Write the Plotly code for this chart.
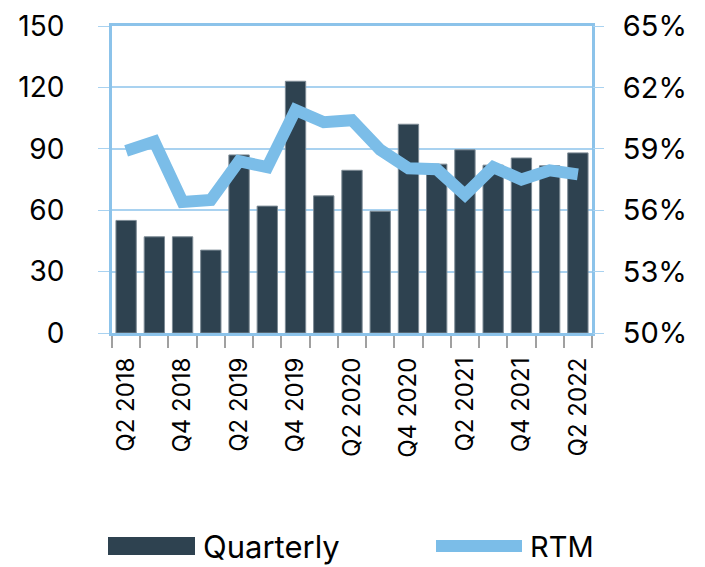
import plotly.graph_objects as go

quarters = ["Q2 2018", "Q3 2018", "Q4 2018", "Q1 2019", "Q2 2019", "Q3 2019", "Q4 2019",
            "Q1 2020", "Q2 2020", "Q3 2020", "Q4 2020", "Q1 2021", "Q2 2021", "Q3 2021",
            "Q4 2021", "Q1 2022", "Q2 2022"]
quarterly = [55, 47, 47, 40.5, 87, 62, 123, 67, 79.5, 59.5, 102, 82.5, 89.5, 82, 85.5, 81.7, 88]
rtm = [58.9, 59.35, 56.4, 56.5, 58.4, 58.1, 60.9, 60.3, 60.4, 58.95, 58.05, 58.0, 56.75,
       58.1, 57.5, 57.95, 57.75]
left_ticks = [0, 30, 60, 90, 120, 150]
right_ticks = [50, 53, 56, 59, 62, 65]
tick_labels = [q if i % 2 == 0 else "" for i, q in enumerate(quarters)]

FONT = "Inter"
BAR = "#2e4250"
LINE = "#7bbde8"
GRID = "#a9d2f0"
BORDER = "#8cc3ea"

fig = go.Figure()
fig.add_trace(go.Bar(x=quarters, y=quarterly, name="Quarterly",
                     marker=dict(color=BAR, line=dict(color="#7d8b95", width=1)),
                     showlegend=False))
fig.add_trace(go.Scatter(x=quarters, y=rtm, name="RTM", yaxis="y2", mode="lines",
                         line=dict(color=LINE, width=12), showlegend=False))

# the page body adds an 8px margin, so the figure is 8px smaller and offset
fig.update_layout(
    width=697, height=559,
    margin=dict(l=104, r=113, t=18, b=234, autoexpand=False),
    paper_bgcolor="white", plot_bgcolor="white",
    bargap=0.28,
    font=dict(family=FONT, size=28, color="black"),
    xaxis=dict(type="category", tickmode="array", tickvals=quarters, ticktext=tick_labels,
               tickson="boundaries", ticks="outside", ticklen=12, tickcolor="#a0a0a0",
               tickwidth=1.5, tickangle=-90, ticklabelstandoff=12, automargin=False,
               showline=True, linecolor=BORDER, linewidth=3, mirror=True,
               showgrid=False, tickfont=dict(size=24)),
    yaxis=dict(range=[0, 150], tickvals=left_ticks, ticks="outside", ticklen=11,
               tickcolor=GRID, showgrid=True, gridcolor=GRID, gridwidth=1.5,
               showline=True, linecolor=BORDER, linewidth=3, mirror=True, automargin=False,
               zeroline=False, ticklabelstandoff=28, tickfont=dict(size=28)),
    yaxis2=dict(range=[50, 65], tickvals=right_ticks,
                ticktext=[f"{v}%" for v in right_ticks], overlaying="y", side="right",
                ticks="outside", ticklen=11, tickcolor=GRID, showgrid=False, automargin=False,
                zeroline=False, ticklabelstandoff=13, tickfont=dict(size=29)),
)

# manual legend (page pixel -> paper coords of the plot area at 112..592, 26..333)
def px_x(px):
    return (px - 112) / 480

def px_y(py):
    return (333 - py) / 307

ly = 546
fig.add_shape(type="rect", xref="paper", yref="paper",
              x0=px_x(108), x1=px_x(195), y0=px_y(555), y1=px_y(537),
              fillcolor=BAR, line=dict(width=0))
fig.add_annotation(xref="paper", yref="paper", x=px_x(201), y=px_y(ly), text="Quarterly",
                   showarrow=False, xanchor="left", yanchor="middle",
                   font=dict(family=FONT, size=31, color="black"))
fig.add_shape(type="line", xref="paper", yref="paper",
              x0=px_x(436), x1=px_x(522), y0=px_y(ly), y1=px_y(ly),
              line=dict(color=LINE, width=12))
fig.add_annotation(xref="paper", yref="paper", x=px_x(528), y=px_y(ly), text="RTM",
                   showarrow=False, xanchor="left", yanchor="middle",
                   font=dict(family=FONT, size=29, color="black"))

fig.write_html("out.html")
